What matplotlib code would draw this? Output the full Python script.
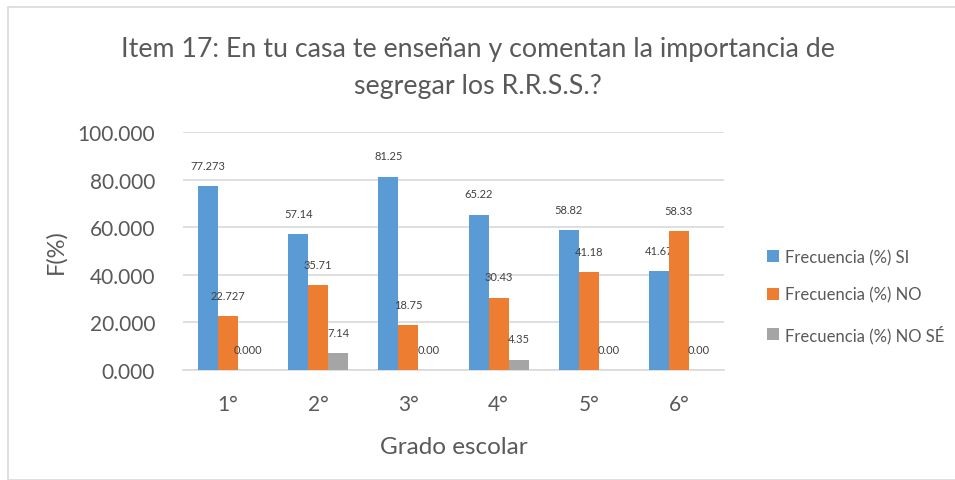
import numpy as np
import matplotlib.pyplot as plt
from matplotlib.patches import Rectangle

plt.rcParams['font.family'] = ['Lato', 'DejaVu Sans']

grados = ['1°', '2°', '3°', '4°', '5°', '6°']
si = [77.273, 57.14, 81.25, 65.22, 58.82, 41.67]
no = [22.727, 35.71, 18.75, 30.43, 41.18, 58.33]
no_se = [0.000, 7.14, 0.00, 4.35, 0.00, 0.00]
etiq_si = ['77.273', '57.14', '81.25', '65.22', '58.82', '41.67']
etiq_no = ['22.727', '35.71', '18.75', '30.43', '41.18', '58.33']
etiq_no_se = ['0.000', '7.14', '0.00', '4.35', '0.00', '0.00']

series = [
    (si, etiq_si, '#5b9bd5', 'Frecuencia (%) SI'),
    (no, etiq_no, '#ed7d31', 'Frecuencia (%) NO'),
    (no_se, etiq_no_se, '#a5a5a5', 'Frecuencia (%) NO SÉ'),
]
gris = '#595959'

fig = plt.figure(figsize=(9.55, 4.81), dpi=100)
ax = fig.add_axes([183 / 955, 1 - 371 / 481, (724 - 183) / 955, (371 - 133) / 481])

x = np.arange(len(grados))
w = 0.222
for i, (vals, etiq, color, nombre) in enumerate(series):
    pos = x + (i - 1) * w
    ax.bar(pos, vals, w, color=color, label=nombre, zorder=3)
    for p, v, t in zip(pos, vals, etiq):
        ax.annotate(t, (p, v), xytext=(0, 11), textcoords='offset points',
                    ha='center', va='bottom', fontsize=8, color='#404040')

ax.set_xlim(-0.5, len(grados) - 0.5)
ax.set_ylim(0, 100)
ax.set_yticks(np.arange(0, 101, 20))
ax.set_yticklabels([f'{v:.3f}' for v in range(0, 101, 20)])
ax.set_xticks(x)
ax.set_xticklabels(grados)
ax.tick_params(axis='both', length=0, labelsize=15, colors=gris)
ax.tick_params(axis='x', pad=17)
ax.tick_params(axis='y', pad=20)
ax.grid(axis='y', color='#d9d9d9', linewidth=1.2, zorder=0)
for s in ['top', 'right', 'left']:
    ax.spines[s].set_visible(False)
ax.spines['bottom'].set_color('#d9d9d9')
ax.spines['bottom'].set_linewidth(1.2)

ax.set_xlabel('Grado escolar', fontsize=17.5, color=gris, labelpad=16)
ax.set_ylabel('F(%)', fontsize=17, color=gris, labelpad=8)

fig.text(0.5, 1 - 68 / 481,
         'Item 17: En tu casa te enseñan y comentan la importancia de\nsegregar los R.R.S.S.?',
         ha='center', va='center', fontsize=19.3, color=gris, linespacing=1.6)

ax.legend(loc='center left', bbox_to_anchor=(752 / 955, 1 - 297 / 481), bbox_transform=fig.transFigure,
          frameon=False, fontsize=12, labelcolor=gris, handlelength=0.7, handleheight=0.7,
          handletextpad=0.4, labelspacing=1.3)

fig.patches.append(Rectangle((8 / 955, 0), 1, 1 - 8 / 481, transform=fig.transFigure,
                             fill=False, edgecolor='#d9d9d9', linewidth=1.2))

fig.savefig('out.png', dpi=100)
